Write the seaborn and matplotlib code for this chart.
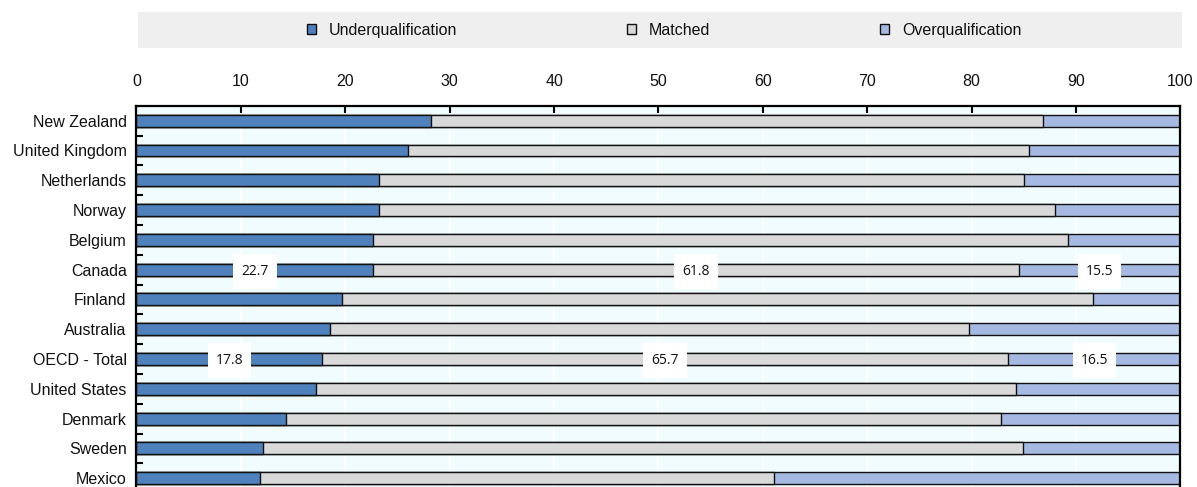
import numpy as np
import pandas as pd
import matplotlib
matplotlib.use("Agg")
import matplotlib.pyplot as plt
from matplotlib.patches import Patch, Rectangle
from matplotlib.path import Path
from matplotlib.ticker import FixedLocator
import seaborn as sns

# Shares of workers by qualification match (%)
countries = ["New Zealand", "United Kingdom", "Netherlands", "Norway", "Belgium",
             "Canada", "Finland", "Australia", "OECD - Total", "United States",
             "Denmark", "Sweden", "Mexico"]
underqualification = [28.2, 26.0, 23.2, 23.2, 22.7, 22.7, 19.7, 18.5, 17.8, 17.2, 14.3, 12.1, 11.8]
matched = [58.6, 59.5, 61.8, 64.8, 66.5, 61.8, 71.9, 61.2, 65.7, 67.0, 68.5, 72.8, 49.3]
overqualification = [13.2, 14.5, 15.0, 12.0, 10.8, 15.5, 8.4, 20.3, 16.5, 15.8, 17.2, 15.1, 38.9]
labelled_rows = ["Canada", "OECD - Total"]
series_names = ["Underqualification", "Matched", "Overqualification"]
x_ticks = [0, 10, 20, 30, 40, 50, 60, 70, 80, 90, 100]

colors = {"Underqualification": "#4F81BD",
          "Matched": "#D9D9D9",
          "Overqualification": "#A6B9E3"}

df = pd.DataFrame({"country": countries,
                   "Underqualification": underqualification,
                   "Matched": matched,
                   "Overqualification": overqualification})
df["cum_under"] = df["Underqualification"]
df["cum_matched"] = df["Underqualification"] + df["Matched"]
df["cum_total"] = df["cum_matched"] + df["Overqualification"]

sns.set_theme(style="white")
plt.rcParams["font.family"] = ["Liberation Sans", "DejaVu Sans"]
FS = 11.5


def label_box(x0, y0, width, height, mutation_size):
    """Plain rectangle with a little more padding vertically than horizontally."""
    px, py = 0.58 * mutation_size, 0.72 * mutation_size
    x0, y0 = x0 - px, y0 - py
    x1, y1 = x0 + width + 2 * px, y0 + height + 2 * py
    return Path([(x0, y0), (x1, y0), (x1, y1), (x0, y1), (x0, y0)], closed=True)


fig = plt.figure(figsize=(11.97, 4.87), dpi=100)
ax = fig.add_axes([0.1140, -0.0125, 0.8722, 0.7953])
ax.set_facecolor("#F1FCFF")

bar_kw = dict(orient="h", width=0.4, edgecolor="#111111", linewidth=1.0,
              saturation=1, ax=ax)
sns.barplot(data=df, x="cum_total", y="country", color=colors["Overqualification"], **bar_kw)
sns.barplot(data=df, x="cum_matched", y="country", color=colors["Matched"], **bar_kw)
sns.barplot(data=df, x="cum_under", y="country", color=colors["Underqualification"], **bar_kw)

# value labels on the highlighted rows, centred in each segment
for i, c in enumerate(countries):
    if c not in labelled_rows:
        continue
    row = df.iloc[i]
    starts = [0, row["cum_under"], row["cum_matched"]]
    for name, s in zip(series_names, starts):
        v = row[name]
        ax.text(s + v / 2, i + 0.05, f"{v:.1f}", ha="center", va="center",
                fontsize=10, family=["Open Sans", "DejaVu Sans"], color="#111111",
                bbox=dict(boxstyle=label_box, facecolor="white", edgecolor="none"),
                zorder=5)

ax.set_xlim(0, 100)
ax.set_ylim(len(countries) - 0.5, -0.5)
ax.set_xlabel("")
ax.set_ylabel("")
ax.xaxis.tick_top()
ax.xaxis.set_major_locator(FixedLocator(x_ticks))
ax.set_xticklabels([str(t) for t in x_ticks])
ax.yaxis.set_minor_locator(FixedLocator(np.arange(0.5, len(countries) - 0.5, 1.0)))
ax.tick_params(axis="x", which="major", top=True, bottom=False, direction="in",
               length=5, width=1.5, color="black", labelsize=FS, pad=12,
               labelcolor="#111111")
ax.tick_params(axis="y", which="major", left=False, length=0, labelsize=FS, pad=7,
               labelcolor="#111111")
ax.tick_params(axis="y", which="minor", left=True, direction="in", length=5,
               width=1.5, color="black")
ax.grid(axis="x", color="white", linewidth=1.5)
ax.grid(axis="y", visible=False)
ax.set_axisbelow(True)

for side in ["left", "top", "right"]:
    ax.spines[side].set_visible(True)
    ax.spines[side].set_color("black")
    ax.spines[side].set_linewidth(1.6)
ax.spines["bottom"].set_visible(False)

# legend band across the top
fig.patches.append(Rectangle((138 / 1197, 1 - 48 / 487), (1182 - 138) / 1197, 36 / 487,
                             transform=fig.transFigure, facecolor="#EFEFEF",
                             edgecolor="none", zorder=0))
handles = [Patch(facecolor=colors[n], edgecolor="#111111", linewidth=1.0) for n in series_names]
fig.legend(handles, series_names, loc="center", bbox_to_anchor=(664 / 1197, 1 - 30.5 / 487),
           ncol=3, frameon=False, fontsize=FS, handlelength=0.6, handleheight=0.6,
           handletextpad=0.8, columnspacing=10.6, labelcolor="#111111")

fig.savefig("out.png", dpi=100)
